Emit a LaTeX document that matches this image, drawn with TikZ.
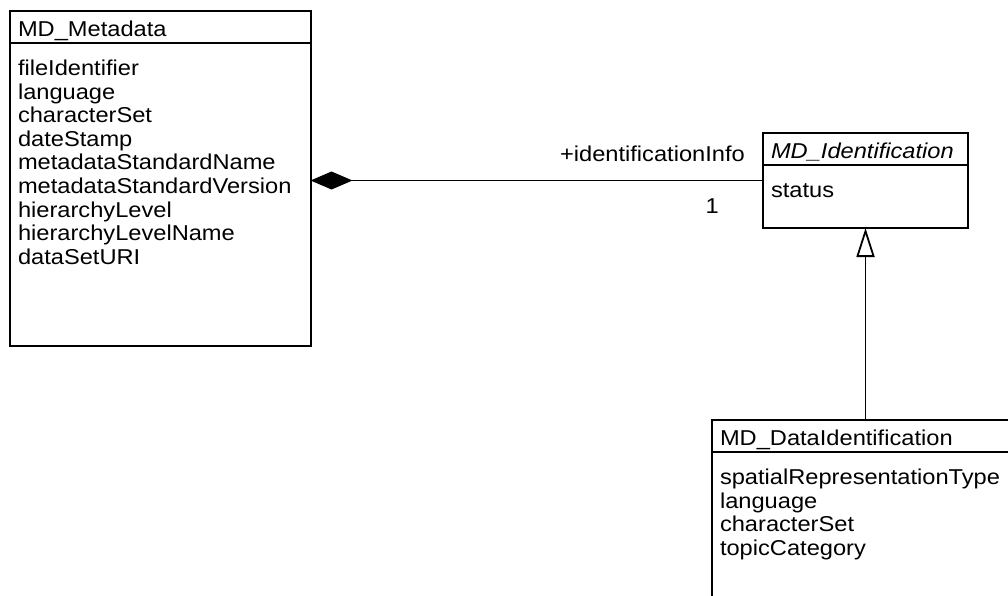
\documentclass[tikz,border=0pt]{standalone}
\usepackage{fontspec}
\setmainfont{Liberation Sans}[FakeStretch=1.1]
\usetikzlibrary{shapes.multipart,arrows.meta,positioning}
\newcommand{\umlfont}{\fontsize{21.5pt}{23.6pt}\selectfont\parindent=0pt}
\newcommand{\headstrut}{\rule[-5.5pt]{0pt}{30pt}}
\newcommand{\topstrut}{\rule{0pt}{31.5pt}}
\newcommand{\botstrut}[1]{\rule[-#1]{0pt}{#1}}
\tikzset{
  umlclass/.style = {rectangle split, rectangle split parts=2, draw=black, line width=2pt,
    anchor=north west, inner xsep=8pt, inner ysep=0pt, outer sep=0pt, align=left, font=\umlfont},
  assoc/.style = {line width=1.8pt},
  rolelabel/.style = {inner sep=0pt, font=\umlfont}
}
\begin{document}
\begin{tikzpicture}[x=1pt,y=-1pt]
\useasboundingbox (0,0) rectangle (1008,596);
\clip (0,0) rectangle (1008,596);
\node [umlclass, text width=284.5pt] (meta) at (10,11)
  {\headstrut MD\_Metadata
   \nodepart{two}\topstrut fileIdentifier\\
   language\\
   characterSet\\
   dateStamp\\
   metadataStandardName\\
   metadataStandardVersion\\
   hierarchyLevel\\
   hierarchyLevelName\\
   dataSetURI\botstrut{80.7pt}};
\node [umlclass, text width=189pt] (ident) at (763,133)
  {\headstrut\itshape MD\_Identification
   \nodepart{two}\topstrut status\botstrut{29.5pt}};
\node [umlclass, text width=285pt] (dataident) at (712,420)
  {\headstrut MD\_DataIdentification
   \nodepart{two}\topstrut spatialRepresentationType\\
   language\\
   characterSet\\
   topicCategory\botstrut{80pt}};
% composition
\draw [assoc, -{Diamond[length=42pt,width=18pt]}] (ident.west) -- (meta.east |- ident.west);
\node [rolelabel, above left=18.5pt and 18pt of ident.west, anchor=base east] (role) {+identificationInfo};
\node [rolelabel, below left=32.5pt and 44pt of ident.west, anchor=base east] (mult) {1};
% generalization
\draw [assoc, -{Triangle[open,length=29pt,width=18pt]}] (dataident.north -| ident.south) -- (ident.south);
\end{tikzpicture}
\end{document}
